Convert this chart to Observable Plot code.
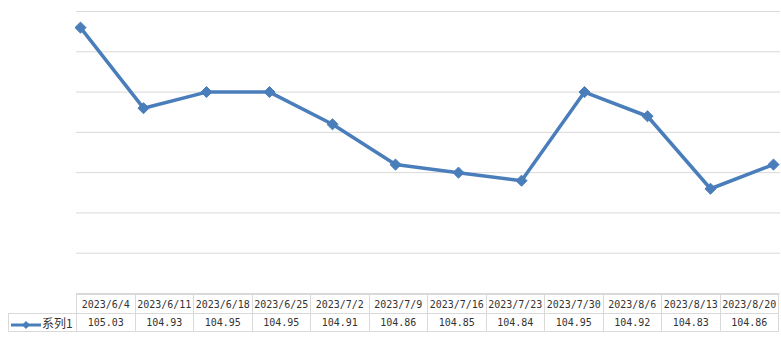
<!DOCTYPE html>
<html>
<head>
<meta charset="utf-8">
<script src="https://cdn.jsdelivr.net/npm/d3@7"></script>
<script src="https://cdn.jsdelivr.net/npm/@observablehq/plot@0.6"></script>
<style>
  html, body { margin: 0; padding: 0; background: #fff; }
  #wrap { position: relative; width: 781px; height: 354px; }
  #chart svg { display: block; }
  #tbl { position: absolute; left: 8px; top: 294px; border-collapse: collapse; table-layout: fixed;
         font-family: "DejaVu Sans Mono", "Liberation Mono", monospace; font-size: 10px; color: #333; }
  #tbl td { border: 1px solid #d9d9d9; text-align: center; padding: 0; white-space: nowrap; overflow: hidden; }
  #tbl tr.h td { height: 18px; }
  #tbl tr.v td { height: 17px; }
  #tbl td.blank { border: none; }
  #tbl td.leg { text-align: left; font-family: "Noto Sans CJK SC", sans-serif; font-size: 12px; }
  #tbl td.leg svg { vertical-align: middle; margin-left: 1px; }
</style>
</head>
<body>
<div id="wrap">
  <div id="chart"></div>
  <table id="tbl"></table>
</div>
<script>
const dates = ["2023/6/4","2023/6/11","2023/6/18","2023/6/25","2023/7/2","2023/7/9","2023/7/16","2023/7/23","2023/7/30","2023/8/6","2023/8/13","2023/8/20"];
const values = [105.03,104.93,104.95,104.95,104.91,104.86,104.85,104.84,104.95,104.92,104.83,104.86];
const seriesName = "系列1";
const yTicks = [104.70,104.75,104.80,104.85,104.90,104.95,105.00,105.05];
const lineColor = "#4a7ebb";

const data = dates.map((d, i) => ({date: d, value: values[i]}));

const chart = Plot.plot({
  width: 781,
  height: 294,
  marginTop: 11,
  marginBottom: 1,
  marginLeft: 79,
  marginRight: 7,
  x: {type: "point", domain: dates, padding: 0, axis: null},
  y: {domain: [104.70, 105.05], axis: null},
  marks: [
    Plot.ruleY(yTicks, {stroke: "#d9d9d9", strokeWidth: 1, insetLeft: -3, insetRight: -6}),
    Plot.line(data, {x: "date", y: "value", stroke: lineColor, strokeWidth: 3.5, strokeLinejoin: "round"}),
    Plot.dot(data, {x: "date", y: "value", symbol: "diamond2", r: 5, fill: lineColor, stroke: lineColor, strokeWidth: 1})
  ]
});
document.getElementById("chart").appendChild(chart);

// data table
const tbl = d3.select("#tbl");
const colgroup = tbl.append("colgroup");
colgroup.append("col").style("width", "68px");
dates.forEach(() => colgroup.append("col").style("width", "58.5px"));
tbl.style("width", (68 + 58.5 * dates.length) + "px");

const hr = tbl.append("tr").attr("class", "h");
hr.append("td").attr("class", "blank");
hr.selectAll("td.d").data(dates).join("td").attr("class", "d").text(d => d);

const vr = tbl.append("tr").attr("class", "v");
const leg = vr.append("td").attr("class", "leg");
const ls = leg.append("svg").attr("width", 32).attr("height", 10);
ls.append("line").attr("x1", 1).attr("x2", 31).attr("y1", 5).attr("y2", 5).attr("stroke", lineColor).attr("stroke-width", 3);
ls.append("path").attr("d", d3.symbol(d3.symbolDiamond2, 40)()).attr("transform", "translate(16,5)").attr("fill", lineColor);
leg.append("span").text(seriesName);
vr.selectAll("td.v").data(values).join("td").attr("class", "v").text(v => v.toFixed(2));
</script>
</body>
</html>
